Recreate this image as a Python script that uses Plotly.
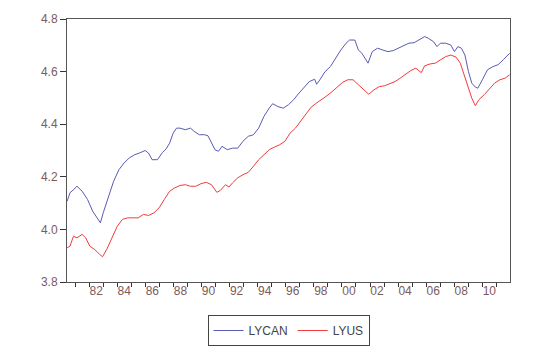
import plotly.graph_objects as go

# LYCAN (blue) readings: decimal year, log value
lycan_t = [1980.43,1980.63,1980.88,1981.13,1981.50,1981.88,1982.25,1982.62,1982.80,1983.00,
           1983.37,1983.74,1984.12,1984.49,1984.86,1985.24,1985.61,1985.98,1986.23,1986.48,
           1986.86,1987.23,1987.48,1987.73,1987.98,1988.22,1988.47,1988.85,1989.22,1989.47,
           1989.84,1990.22,1990.46,1990.71,1990.96,1991.21,1991.46,1991.83,1992.21,1992.58,
           1992.95,1993.33,1993.70,1994.07,1994.45,1994.82,1995.07,1995.44,1995.82,1996.19,
           1996.56,1996.94,1997.31,1997.68,1998.06,1998.20,1998.43,1998.80,1999.18,1999.55,1999.92,
           2000.30,2000.54,2000.92,2001.17,2001.42,2001.66,2001.86,2002.16,2002.54,2002.91,
           2003.28,2003.66,2004.03,2004.40,2004.77,2005.15,2005.52,2005.89,2006.14,2006.52,
           2006.77,2007.01,2007.39,2007.76,2008.01,2008.26,2008.51,2008.76,2009.01,2009.25,
           2009.50,2009.68,2010.00,2010.37,2010.75,2011.12,2011.49,2011.74,2011.95]
lycan_v = [4.107,4.139,4.151,4.164,4.145,4.114,4.069,4.038,4.025,4.063,
           4.126,4.183,4.227,4.253,4.272,4.284,4.291,4.300,4.290,4.265,
           4.265,4.293,4.306,4.328,4.366,4.385,4.385,4.379,4.385,4.373,
           4.360,4.360,4.356,4.328,4.303,4.297,4.316,4.303,4.309,4.309,
           4.335,4.354,4.360,4.385,4.430,4.461,4.478,4.467,4.461,4.474,
           4.493,4.518,4.541,4.562,4.571,4.552,4.569,4.600,4.619,4.651,4.682,
           4.708,4.720,4.720,4.682,4.670,4.651,4.632,4.676,4.689,4.682,
           4.676,4.680,4.689,4.698,4.708,4.710,4.720,4.733,4.727,4.714,
           4.695,4.708,4.708,4.701,4.676,4.695,4.689,4.663,4.600,4.556,
           4.541,4.537,4.569,4.607,4.619,4.626,4.645,4.657,4.670]

# LYUS (red) readings
lyus_t = [1980.43,1980.63,1980.88,1981.13,1981.50,1981.75,1982.05,1982.38,1982.75,1982.95,
          1983.25,1983.62,1984.00,1984.37,1984.74,1985.11,1985.49,1985.86,1986.23,1986.61,
          1986.98,1987.35,1987.73,1988.10,1988.47,1988.85,1989.22,1989.59,1989.97,1990.34,
          1990.71,1991.09,1991.34,1991.71,1991.96,1992.21,1992.58,1992.95,1993.33,1993.70,
          1994.07,1994.45,1994.82,1995.19,1995.57,1995.94,1996.31,1996.69,1997.06,1997.43,
          1997.81,1998.18,1998.55,1998.93,1999.30,1999.67,2000.05,2000.42,2000.79,2001.17,
          2001.54,2001.91,2002.29,2002.66,2003.03,2003.41,2003.78,2004.15,2004.53,2004.90,
          2005.27,2005.65,2005.89,2006.27,2006.64,2007.01,2007.39,2007.76,2008.13,2008.43,
          2008.76,2009.01,2009.25,2009.50,2009.75,2010.13,2010.50,2010.87,2011.25,2011.62,
          2011.95]
lyus_v = [3.930,3.936,3.974,3.968,3.981,3.968,3.936,3.924,3.905,3.896,
          3.924,3.968,4.012,4.038,4.044,4.044,4.044,4.057,4.053,4.063,
          4.082,4.114,4.145,4.158,4.167,4.170,4.164,4.164,4.174,4.179,
          4.170,4.141,4.148,4.170,4.161,4.177,4.196,4.208,4.217,4.240,
          4.265,4.284,4.303,4.313,4.322,4.335,4.366,4.385,4.411,4.436,
          4.465,4.480,4.493,4.508,4.524,4.541,4.559,4.569,4.569,4.550,
          4.531,4.514,4.531,4.543,4.546,4.553,4.562,4.575,4.588,4.604,
          4.613,4.596,4.622,4.629,4.632,4.645,4.657,4.663,4.655,4.632,
          4.581,4.537,4.499,4.470,4.493,4.512,4.533,4.556,4.569,4.575,
          4.588]

label_years = list(range(1982, 2011, 2))
tick_labels = ["%02d" % (y % 100) for y in label_years]
year_ticks = list(range(1981, 2012))
y_ticks = [3.8, 4.0, 4.2, 4.4, 4.6, 4.8]

x_range = [1980.42, 2011.97]

fig = go.Figure()
fig.add_trace(go.Scatter(x=lycan_t, y=lycan_v, mode="lines", name="LYCAN",
                         line=dict(color="#5a5ab4", width=1)))
fig.add_trace(go.Scatter(x=lyus_t, y=lyus_v, mode="lines", name="LYUS",
                         line=dict(color="#f03c3c", width=1)))
# invisible helper trace so that the label axis is drawn
fig.add_trace(go.Scatter(x=[x_range[0]], y=[3.8], xaxis="x2", mode="lines",
                         showlegend=False, hoverinfo="skip",
                         line=dict(color="rgba(0,0,0,0)")))

tick_font = dict(family="Liberation Sans, Arial, sans-serif", size=12, color="#7e5a5a")

fig.update_layout(
    width=545, height=346,
    margin=dict(l=67, r=35, t=19, b=64, autoexpand=False),
    paper_bgcolor="white", plot_bgcolor="white",
    showlegend=True,
    legend=dict(orientation="h", x=0.5, xanchor="center",
                yref="container", y=1 - 315 / 346, yanchor="top",
                bordercolor="#444444", borderwidth=1,
                font=dict(family="Liberation Sans, Arial, sans-serif", size=12, color="#444444"),
                itemwidth=30, tracegroupgap=0),
    xaxis=dict(range=x_range, tickmode="array",
               tickvals=year_ticks, ticktext=[""] * len(year_ticks),
               ticks="outside", ticklen=4, tickcolor="#333333", tickwidth=1,
               showgrid=False, zeroline=False, automargin=False,
               showline=True, linecolor="#555555", linewidth=1, mirror=True),
    xaxis2=dict(range=x_range, overlaying="x", anchor="y", side="bottom",
                tickmode="array", tickvals=[y + 0.5 for y in label_years],
                ticktext=tick_labels, ticks="", automargin=False,
                showgrid=False, zeroline=False, showline=False,
                tickfont=tick_font),
    yaxis=dict(range=[3.8, 4.8], tickmode="array", tickvals=y_ticks,
               ticktext=["%.1f" % v for v in y_ticks],
               ticks="outside", ticklen=6, tickcolor="#333333", automargin=False,
               showgrid=False, zeroline=False,
               showline=True, linecolor="#555555", linewidth=1, mirror=True,
               tickfont=tick_font),
)

fig.write_html("out.html")
